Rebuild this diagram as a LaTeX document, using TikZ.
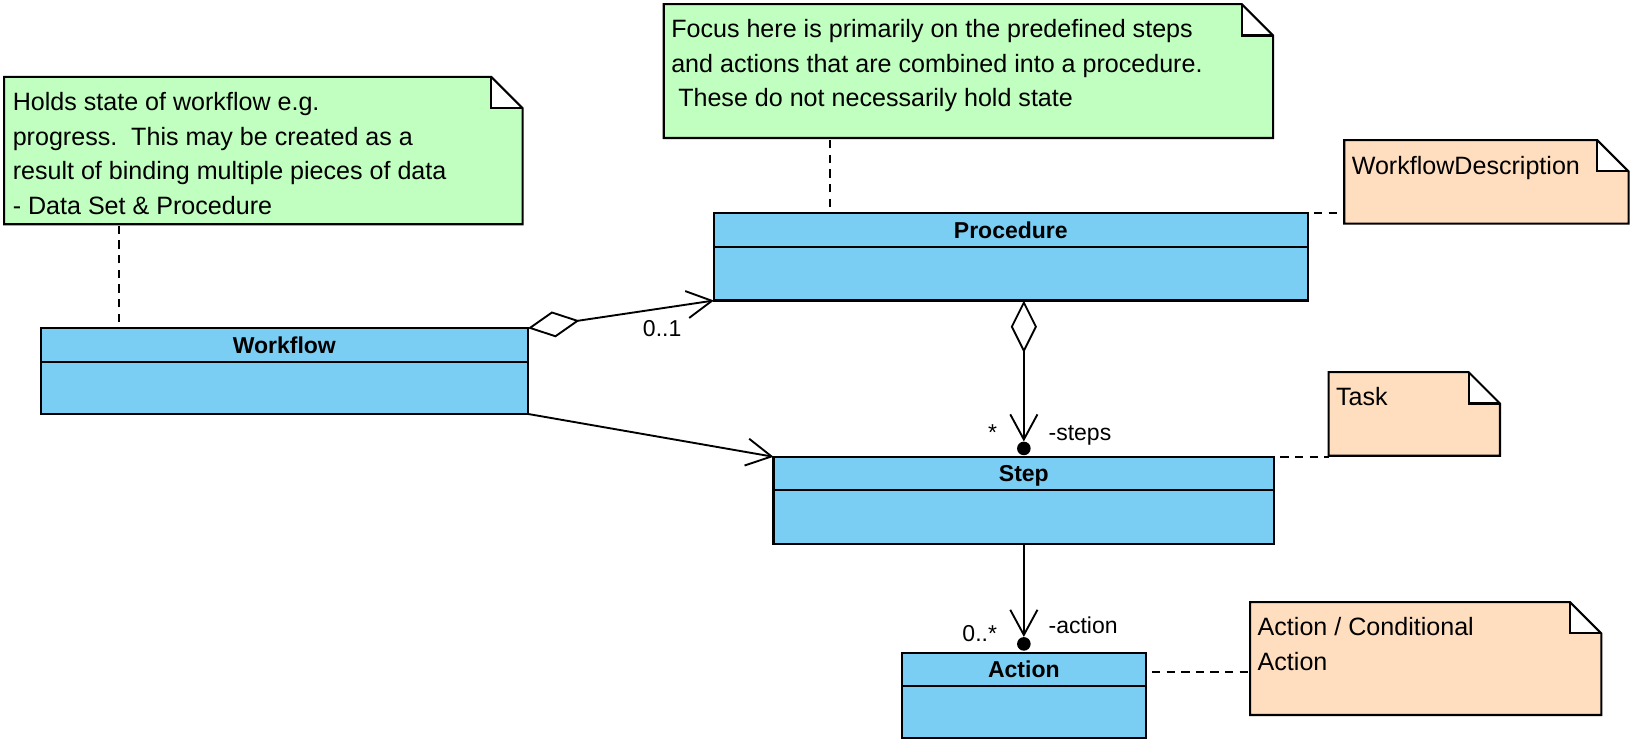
\documentclass[tikz,border=0pt]{standalone}
\usepackage{fontspec}
\setmainfont{Liberation Sans}
\usetikzlibrary{arrows.meta,calc}
\definecolor{clsblue}{RGB}{122,206,244}
\definecolor{notegreen}{RGB}{192,255,192}
\definecolor{noteorange}{RGB}{255,222,192}
\newcommand\drawnote[2]{%
  \fill[#2] (#1.north west) -- ([xshift=-30pt]#1.north east) -- ([yshift=-30pt]#1.north east) -- (#1.south east) -- (#1.south west) -- cycle;
  \fill[white] ([xshift=-30pt]#1.north east) -- ([xshift=-30pt,yshift=-30pt]#1.north east) -- ([yshift=-30pt]#1.north east) -- cycle;
  \draw[notebord] (#1.north west) -- ([xshift=-30pt]#1.north east) -- ([yshift=-30pt]#1.north east) -- (#1.south east) -- (#1.south west) -- cycle;
  \draw[notebord] ([xshift=-30pt]#1.north east) -- ([xshift=-30pt,yshift=-30pt]#1.north east) -- ([yshift=-30pt]#1.north east);
}
\newcommand\clsdivider[1]{%
  \draw[line width=2pt] ([yshift=-32pt]#1.north west) -- ([yshift=-32pt]#1.north east);
}
\begin{document}
\begin{tikzpicture}[x=1pt,y=-1pt,line join=miter,
  cls/.style={draw=black, fill=clsblue, line width=2pt, anchor=north west, inner sep=0pt, outer sep=0pt},
  notebox/.style={anchor=north west, inner sep=0pt, outer sep=0pt},
  notebord/.style={draw=black, line width=2pt},
  notetext/.style={anchor=base west, inner sep=0pt, font=\fontsize{24}{33}\selectfont},
  clsname/.style={anchor=base, inner sep=0pt, font=\fontsize{22}{26}\selectfont\bfseries},
  lbl/.style={inner sep=0pt, font=\fontsize{22}{26}\selectfont},
  conn/.style={line width=1.8pt},
  nav/.style={conn, -{Straight Barb[length=24pt,width=26pt]}},
  aggr/.style={conn, {Diamond[fill=white,length=50pt,width=25pt]}-{Straight Barb[length=24pt,width=26pt]}},
  dot/.style={circle, fill=black, inner sep=0pt, minimum size=13pt},
  dashln/.style={line width=1.8pt, dash pattern=on 8pt off 6pt, dash phase=8pt}
]
\useasboundingbox (0,0) rectangle (1568,715);

% notes
\node[notebox, minimum width=496pt, minimum height=141pt] (noteA) at (4,73.5) {};
\node[notebox, minimum width=583pt, minimum height=128pt] (noteB) at (635,4) {};
\node[notebox, minimum width=272pt, minimum height=80pt] (noteC) at (1286,134) {};
\node[notebox, minimum width=164pt, minimum height=80pt] (noteD) at (1271,356) {};
\node[notebox, minimum width=336pt, minimum height=108pt] (noteE) at (1196,576) {};
\drawnote{noteA}{notegreen}
\drawnote{noteB}{notegreen}
\drawnote{noteC}{noteorange}
\drawnote{noteD}{noteorange}
\drawnote{noteE}{noteorange}
\node[notetext] (noteAtext) at ($(noteA.north west)+(8,32.5)$) {\parbox[t]{480pt}{Holds state of workflow e.g.\\progress.\ \ This may be created as a\\result of binding multiple pieces of data\\- Data Set \& Procedure}};
\node[notetext] (noteBtext) at ($(noteB.north west)+(7,32)$) {\parbox[t]{560pt}{Focus here is primarily on the predefined steps\\and actions that are combined into a procedure.\\\hspace*{0.278em}These do not necessarily hold state}};
\node[notetext] (noteCtext) at ($(noteC.north west)+(7,33)$) {WorkflowDescription};
\node[notetext] (noteDtext) at ($(noteD.north west)+(7,32)$) {Task};
\node[notetext] (noteEtext) at ($(noteE.north west)+(7,32)$) {\parbox[t]{320pt}{Action / Conditional\\Action}};

% classes
\node[cls, minimum width=568pt, minimum height=83.5pt] (proc) at (683,204) {};
\node[cls, minimum width=466pt, minimum height=82pt] (wf) at (39,314) {};
\node[cls, minimum width=479pt, minimum height=83pt] (step) at (740,437) {};
\node[cls, minimum width=233pt, minimum height=81.5pt] (act) at (863,624.5) {};
\clsdivider{proc}
\clsdivider{wf}
\clsdivider{step}
\clsdivider{act}
\node[clsname] (procname) at ($(proc.north)+(0,24)$) {Procedure};
\node[clsname] (wfname) at ($(wf.north)+(0,24)$) {Workflow};
\node[clsname] (stepname) at ($(step.north)+(0,24)$) {Step};
\node[clsname] (actname) at ($(act.north)+(0,24)$) {Action};

% note links
\draw[dashln] ([xshift=75pt]wf.north west) -- ([xshift=75pt]wf.north west |- noteA.south);
\draw[dashln] ([xshift=111pt]proc.north west) -- ([xshift=111pt]proc.north west |- noteB.south);
\draw[dashln] (proc.north east) -- (proc.north east -| noteC.west);
\draw[dashln] (step.north east) -- (step.north east -| noteD.west);
\draw[dashln] ([yshift=-18pt]act.north east) -- ([yshift=-18pt]act.north east -| noteE.west);

% associations
\node[dot] (stepdot) at ($(step.north)+(0,-8)$) {};
\node[dot] (actdot) at ($(act.north)+(0,-8.5)$) {};
\draw[aggr] (wf.north east) -- (proc.south west);
\draw[nav] (wf.south east) -- (step.north west);
\draw[aggr] (proc.south -| stepdot) -- (stepdot.north);
\draw[nav] (step.south -| actdot) -- (actdot.north);

% labels
\node[lbl, anchor=base east] (l01) at (652,321.5) {0..1};
\node[lbl, anchor=base east] (lstar) at (954,421.6) {*};
\node[lbl, anchor=base west] (lsteps) at (1003,421.7) {-steps};
\node[lbl, anchor=base east] (l0star) at (954,614) {0..*};
\node[lbl, anchor=base west] (laction) at (1003,606) {-action};
\end{tikzpicture}
\end{document}
